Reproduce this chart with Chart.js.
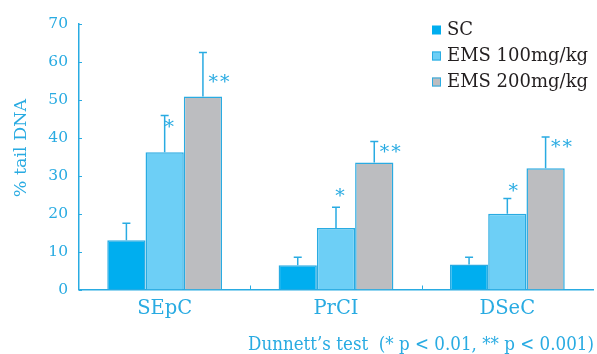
<!DOCTYPE html>
<html>
<head>
<meta charset="utf-8">
<script src="https://cdn.jsdelivr.net/npm/chart.js@4.4.1/dist/chart.umd.min.js"></script>
<style>
  html, body { margin: 0; padding: 0; background: #fff; }
  #wrap { position: relative; width: 597px; height: 354px; }
</style>
</head>
<body>
<div id="wrap"><canvas id="c"></canvas></div>
<script>
// данные
const categories = ["SEpC", "PrCI", "DSeC"]
const seriesNames = ["SC", "EMS 100mg/kg", "EMS 200mg/kg"]
const scMean = [13, 6.4, 6.6]
const scErr = [17.5, 8.5, 8.5]
const ems100Mean = [36.2, 16.2, 20]
const ems100Err = [45.9, 21.7, 24]
const ems200Mean = [50.9, 33.5, 32]
const ems200Err = [62.5, 39, 40.2]
const sigMarks = [["", "", ""], ["*", "*", "*"], ["**", "**", "**"]]
const yTicks = [0, 10, 20, 30, 40, 50, 60, 70]
const yTitle = "% tail DNA"
const footNote = "Dunnett\u2019s test  (* p < 0.01, ** p < 0.001)"

const CYAN = "#29abe2"
const SERIF = "'DejaVu Serif', serif"
const fills = ["#00aeef", "#6dcff6", "#bcbdc0"]
const errTops = [scErr, ems100Err, ems200Err]
// сдвиг звёздочек от верха уса: [dx, dy] по категориям
const starShift = {
  "*": [[4.5, 9], [4, -14], [6, -10]],
  "**": [[16, 27], [16, 7], [16, 7]]
}

// усы погрешностей, звёздочки, засечки, легенда и подписи
const extras = {
  id: "extras",
  afterDatasetsDraw(chart) {
    const ctx = chart.ctx, y = chart.scales.y, x = chart.scales.x
    ctx.save()
    ctx.strokeStyle = CYAN
    ctx.lineWidth = 1.5
    chart.data.datasets.forEach((ds, di) => {
      chart.getDatasetMeta(di).data.forEach((bar, i) => {
        const top = y.getPixelForValue(errTops[di][i])
        ctx.beginPath()
        ctx.moveTo(bar.x, bar.y); ctx.lineTo(bar.x, top)
        ctx.moveTo(bar.x - 4, top); ctx.lineTo(bar.x + 4, top)
        ctx.stroke()
        const m = sigMarks[di][i]
        if (!m) return
        const [dx, dy] = starShift[m][i]
        ctx.fillStyle = CYAN
        ctx.font = "19px " + SERIF
        ctx.textAlign = "center"
        ctx.textBaseline = "middle"
        ctx.letterSpacing = "2px"
        ctx.fillText(m, bar.x + dx + 1, top + dy + 4)
        ctx.letterSpacing = "0px"
      })
    })
    // засечки на осях внутрь
    ctx.lineWidth = 1
    yTicks.forEach(v => {
      const py = Math.round(y.getPixelForValue(v)) + 0.5
      ctx.beginPath(); ctx.moveTo(x.left, py); ctx.lineTo(x.left + 3, py); ctx.stroke()
    })
    for (let i = 1; i < categories.length; i++) {
      const px = Math.round((x.getPixelForValue(i - 1) + x.getPixelForValue(i)) / 2) + 0.5
      ctx.beginPath(); ctx.moveTo(px, y.bottom); ctx.lineTo(px, y.bottom - 4); ctx.stroke()
    }
    // подпись оси y
    ctx.save()
    ctx.translate(21, 148)
    ctx.rotate(-Math.PI / 2)
    ctx.fillStyle = CYAN
    ctx.font = "17.5px " + SERIF
    ctx.textAlign = "center"
    ctx.textBaseline = "middle"
    ctx.fillText(yTitle, 0, 0)
    ctx.restore()
    // легенда
    ctx.textAlign = "left"
    ctx.textBaseline = "middle"
    ctx.font = "18px " + SERIF
    seriesNames.forEach((name, k) => {
      const ly = 30 + k * 26
      ctx.fillStyle = fills[k]
      ctx.fillRect(432, ly - 4.5, 9, 9)
      if (k > 0) { ctx.strokeStyle = CYAN; ctx.strokeRect(432.5, ly - 4, 8, 8) }
      ctx.fillStyle = "#231f20"
      ctx.fillText(name, 447, ly)
    })
    // подпись теста, подгоняем по ширине
    ctx.fillStyle = CYAN
    ctx.textAlign = "left"
    ctx.textBaseline = "alphabetic"
    ctx.font = "19px " + SERIF
    const w = ctx.measureText(footNote).width
    ctx.translate(248, 350)
    ctx.scale(346 / w, 1)
    ctx.fillText(footNote, 0, 0)
    ctx.restore()
  }
}

const mk = (label, data, k) => ({
  label, data, backgroundColor: fills[k], borderColor: CYAN, borderWidth: 1.5,
  categoryPercentage: 0.67, barPercentage: 1
})

new Chart(document.getElementById("c").getContext("2d"), {
  type: "bar",
  data: {
    labels: categories,
    datasets: [mk(seriesNames[0], scMean, 0), mk(seriesNames[1], ems100Mean, 1), mk(seriesNames[2], ems200Mean, 2)]
  },
  options: {
    responsive: true,
    maintainAspectRatio: false,
    animation: false,
    layout: { padding: { top: 24, right: 4, bottom: 0, left: 0 } },
    scales: {
      x: {
        grid: { display: false, drawTicks: false },
        border: { color: CYAN, width: 1.5 },
        ticks: { color: CYAN, font: { family: SERIF, size: 19.5 }, padding: 8 },
        afterFit(s) { s.height = 64.5 }
      },
      y: {
        min: 0, max: 70,
        afterBuildTicks(s) { s.ticks = yTicks.map(v => ({ value: v })) },
        grid: { display: false, drawTicks: false },
        border: { color: CYAN, width: 1.5 },
        ticks: { color: CYAN, font: { family: SERIF, size: 15.5 }, padding: 11 },
        afterFit(s) { s.width = 79 }
      }
    },
    plugins: { legend: { display: false }, tooltip: { enabled: false } }
  },
  plugins: [extras]
})
</script>
</body>
</html>
